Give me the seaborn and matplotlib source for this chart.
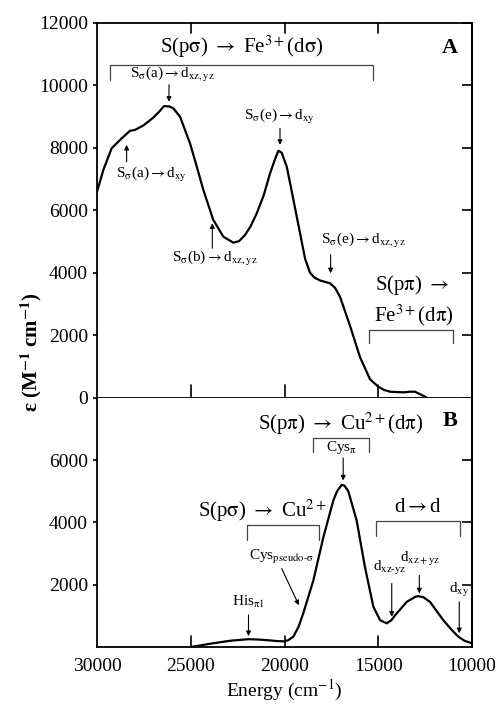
import numpy as np
import pandas as pd
import matplotlib
matplotlib.use("Agg")
import matplotlib.pyplot as plt
import seaborn as sns

# Panel A: rubredoxin-like Fe3+ spectrum (energy cm-1, epsilon M-1 cm-1)
energy_a = [30000, 29660, 29220, 28680, 28240, 27970, 27530, 27000, 26700, 26430,
            26150, 25930, 25570, 25040, 24700, 24330, 23800, 23260, 22730, 22420,
            22100, 21800, 21480, 21100, 20770, 20500, 20330, 20150, 19880, 19700,
            19170, 18900, 18640, 18400, 18100, 17570, 17300, 17040, 16500, 15970,
            15440, 15000, 14700, 14370, 13660, 13300, 13040, 12800, 12500, 12400]
eps_a = [6600, 7300, 7990, 8310, 8550, 8580, 8720, 8970, 9150, 9340,
         9330, 9270, 9000, 8150, 7450, 6660, 5700, 5160, 4970, 5020,
         5220, 5500, 5910, 6500, 7190, 7650, 7910, 7850, 7400, 6870,
         5270, 4450, 4010, 3850, 3760, 3670, 3520, 3240, 2300, 1300,
         600, 360, 260, 200, 180, 200, 200, 130, 40, 0]

# Panel B: blue copper Cu2+ spectrum
energy_b = [25000, 24500, 23800, 22900, 21930, 21400, 20950, 20400, 20000, 19800,
            19530, 19250, 19000, 18460, 17930, 17400, 17200, 16950, 16800, 16600,
            16150, 15710, 15260, 14900, 14550, 14300, 14100, 13480, 13000, 12860,
            12600, 12240, 11530, 11100, 10730, 10400, 10000]
eps_b = [0, 50, 120, 200, 250, 240, 220, 190, 180, 220,
         330, 650, 1080, 2140, 3520, 4700, 5000, 5210, 5180, 5010,
         4060, 2570, 1290, 860, 760, 860, 1020, 1450, 1620, 1630,
         1600, 1450, 860, 560, 330, 200, 120]

x_ticks = [30000, 25000, 20000, 15000, 10000]
y_ticks_a = [0, 2000, 4000, 6000, 8000, 10000, 12000]
y_ticks_b = [2000, 4000, 6000]

sns.set_style("ticks")
plt.rcParams["font.family"] = ["Liberation Serif", "DejaVu Serif"]
plt.rcParams["mathtext.fontset"] = "stix"
plt.rcParams["axes.linewidth"] = 1.3
for key in ["text.color", "axes.labelcolor", "xtick.color", "ytick.color", "axes.edgecolor"]:
    plt.rcParams[key] = "black"

df_a = pd.DataFrame({"energy": energy_a, "eps": eps_a})
df_b = pd.DataFrame({"energy": energy_b, "eps": eps_b})

fig = plt.figure(figsize=(5.0, 7.05), dpi=100)
ax_a = fig.add_axes([0.194, 0.4355, 0.75, 0.5319])
ax_b = fig.add_axes([0.194, 0.0823, 0.75, 0.3532])

sns.lineplot(data=df_a, x="energy", y="eps", ax=ax_a, color="black", lw=1.6, sort=False)
sns.lineplot(data=df_b, x="energy", y="eps", ax=ax_b, color="black", lw=1.6, sort=False)

for ax in (ax_a, ax_b):
    ax.set_xlim(30000, 10000)
    ax.set_xlabel("")
    ax.set_ylabel("")
    ax.set_xticks(x_ticks)
    ax.tick_params(axis="both", labelsize=14, width=1.2)
    ax.tick_params(axis="y", left=True, right=False, direction="out", length=3)
    ax.tick_params(axis="x", bottom=True, top=False, length=0)

ax_a.set_ylim(0, 12000)
ax_a.set_yticks(y_ticks_a)
ax_a.tick_params(axis="x", labelbottom=False)

ax_b.set_ylim(0, 8000)
ax_b.set_yticks(y_ticks_b)
ax_b.tick_params(axis="x", pad=8)
ax_b.spines["top"].set_visible(False)

# inward ticks on the right of both panels
for ax, yt in ((ax_a, y_ticks_a), (ax_b, y_ticks_b)):
    rsec = ax.secondary_yaxis("right")
    rsec.set_yticks(yt)
    rsec.tick_params(direction="in", length=7, width=1.2, labelright=False)

# x tick marks: inward on top of A, crossing the shared line, inward at bottom of B
h_a = 375.0
h_b = 249.0
for x in x_ticks[1:-1]:
    ax_a.plot([x, x], [1, 1 - 10 / h_a], transform=ax_a.get_xaxis_transform(),
              color="black", lw=1.2, clip_on=False)
    ax_a.plot([x, x], [-13 / h_a, 13 / h_a], transform=ax_a.get_xaxis_transform(),
              color="black", lw=1.2, clip_on=False, zorder=5)
    ax_b.plot([x, x], [0, 11 / h_b], transform=ax_b.get_xaxis_transform(),
              color="black", lw=1.2, clip_on=False)


def bracket(ax, x0, x1, y, drop):
    ax.plot([x0, x0, x1, x1], [y - drop, y, y, y - drop], color="#444444", lw=0.9)


def arrow(ax, x, y0, y1):
    ax.annotate("", xy=(x, y1), xytext=(x, y0),
                arrowprops=dict(arrowstyle="-|>", lw=0.8, color="black",
                                mutation_scale=7, shrinkA=0, shrinkB=0))


big = 15
small = 11

# Panel A labels
ax_a.text(11170, 11200, "A", fontsize=16, fontweight="bold", ha="center", va="center")
ax_a.text(22300, 11250, r"S(p$\mathrm{σ}$) $\rightarrow$ Fe$^{3+}$(d$\mathrm{σ}$)",
          fontsize=big, ha="center", va="center")
bracket(ax_a, 29300, 15300, 10660, 480)

ax_a.text(26000, 10340, r"S$_{\mathrm{σ}}$(a)$\rightarrow$d$_{\mathrm{xz,yz}}$",
          fontsize=small, ha="center", va="center")
arrow(ax_a, 26160, 10020, 9480)

ax_a.text(27070, 7140, r"S$_{\mathrm{σ}}$(a)$\rightarrow$d$_{\mathrm{xy}}$",
          fontsize=small, ha="center", va="center")
arrow(ax_a, 28420, 7560, 8100)

ax_a.text(23700, 4470, r"S$_{\mathrm{σ}}$(b)$\rightarrow$d$_{\mathrm{xz,yz}}$",
          fontsize=small, ha="center", va="center")
arrow(ax_a, 23850, 4790, 5590)

ax_a.text(20250, 9000, r"S$_{\mathrm{σ}}$(e)$\rightarrow$d$_{\mathrm{xy}}$",
          fontsize=small, ha="center", va="center")
arrow(ax_a, 20240, 8630, 8100)

ax_a.text(15800, 5050, r"S$_{\mathrm{σ}}$(e)$\rightarrow$d$_{\mathrm{xz,yz}}$",
          fontsize=small, ha="center", va="center")
arrow(ax_a, 17540, 4580, 3990)

ax_a.text(13200, 3620, r"S(p$\mathrm{π}$) $\rightarrow$", fontsize=big, ha="center", va="center")
ax_a.text(13130, 2660, r"Fe$^{3+}$(d$\mathrm{π}$)", fontsize=big, ha="center", va="center")
bracket(ax_a, 15480, 11000, 2180, 430)

# Panel B labels
ax_b.text(11170, 7260, "B", fontsize=16, fontweight="bold", ha="center", va="center")
ax_b.text(17000, 7180, r"S(p$\mathrm{π}$) $\rightarrow$ Cu$^{2+}$(d$\mathrm{π}$)",
          fontsize=big, ha="center", va="center")
bracket(ax_b, 18460, 15490, 6710, 430)
ax_b.text(16950, 6420, r"Cys$_{\mathrm{π}}$", fontsize=small, ha="center", va="center")
arrow(ax_b, 16870, 6070, 5350)

ax_b.text(21170, 4390, r"S(p$\mathrm{σ}$) $\rightarrow$ Cu$^{2+}$", fontsize=big,
          ha="center", va="center")
bracket(ax_b, 22020, 18160, 3930, 480)
ax_b.text(20150, 2890, r"Cys$_{\mathrm{pseudo\text{-}σ}}$", fontsize=small,
          ha="center", va="center")
ax_b.annotate("", xy=(19230, 1340), xytext=(20150, 2520),
              arrowprops=dict(arrowstyle="-|>", lw=0.8, color="black",
                              mutation_scale=7, shrinkA=0, shrinkB=0))

ax_b.text(21920, 1450, r"His$_{\mathrm{π1}}$", fontsize=small, ha="center", va="center")
arrow(ax_b, 21920, 1030, 350)

ax_b.text(12860, 4490, r"d$\rightarrow$d", fontsize=big, ha="center", va="center")
bracket(ax_b, 15120, 10640, 4040, 460)

ax_b.text(14380, 2550, r"d$_{\mathrm{xz\text{-}yz}}$", fontsize=small, ha="center", va="center")
arrow(ax_b, 14280, 2040, 970)
ax_b.text(12760, 2840, r"d$_{\mathrm{xz+yz}}$", fontsize=small, ha="center", va="center")
arrow(ax_b, 12810, 2300, 1720)
ax_b.text(10680, 1830, r"d$_{\mathrm{xy}}$", fontsize=small, ha="center", va="center")
arrow(ax_b, 10680, 1450, 440)

ax_b.set_xlabel(r"Energy (cm$^{-1}$)", fontsize=14, labelpad=2)
fig.text(0.062, 0.50, r"ε (M$^{\mathbf{-1}}$ cm$^{\mathbf{-1}}$)", fontsize=15,
         fontweight="bold", rotation=90, ha="center", va="center")

fig.savefig("out.png", dpi=100)
